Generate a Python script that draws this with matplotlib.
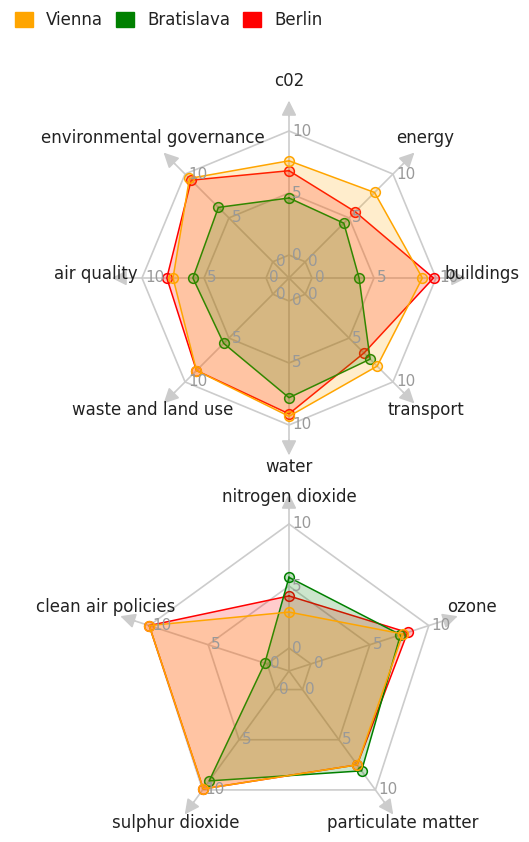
import matplotlib
matplotlib.use('Agg')
import matplotlib.pyplot as plt
import numpy as np
from matplotlib.patches import Patch
from matplotlib import transforms

# ---------------- data ----------------
series_names = ['Vienna', 'Bratislava', 'Berlin']
series_colors = ['#FFA500', '#008000', '#FF0000']

top_categories = ['c02', 'energy', 'buildings', 'transport', 'water',
                  'waste and land use', 'air quality', 'environmental governance']
vienna_top = [7.6, 7.9, 8.9, 8.2, 9.3, 8.7, 7.5, 9.5]
bratislava_top = [4.6, 4.4, 3.8, 7.4, 7.8, 5.6, 5.9, 6.2]
berlin_top = [6.8, 5.7, 9.8, 6.7, 9.1, 8.7, 8.0, 9.3]

bottom_categories = ['nitrogen dioxide', 'ozone', 'particulate matter',
                     'sulphur dioxide', 'clean air policies']
vienna_bottom = [2.9, 7.8, 7.5, 9.9, 10.0]
bratislava_bottom = [5.7, 7.6, 8.1, 9.1, 0.2]
berlin_bottom = [4.2, 8.2, 7.5, 9.9, 10.0]

tick_levels = [0, 5, 10]

# ---------------- layout ----------------
W, H, DPI = 529, 842, 100
fig = plt.figure(figsize=(W / DPI, H / DPI), dpi=DPI)
fig.patch.set_facecolor('white')

RMIN, RMAX = -1.85, 13.0
PX_PER_UNIT = 147 / 11.85
GRID = '#cccccc'
TEXT = '#222222'
TICK = '#999999'


def add_radar(cx, cy, cats, data, label_r):
    rad = (RMAX - RMIN) * PX_PER_UNIT
    ax = fig.add_axes([(cx - rad) / W, (H - cy - rad) / H, 2 * rad / W, 2 * rad / H],
                      projection='polar')
    ax.set_theta_zero_location('N')
    ax.set_theta_direction(-1)
    ax.set_ylim(RMIN, RMAX)
    ax.axis('off')
    n = len(cats)
    th = np.arange(n) * 2 * np.pi / n
    thc = np.append(th, th[0])

    # grid polygons
    for lvl in tick_levels:
        ax.plot(thc, [lvl] * (n + 1), color=GRID, lw=1.2, zorder=1)
    # spokes + arrows
    for t in th:
        ax.plot([t, t], [RMIN, 11.5], color=GRID, lw=1.2, zorder=1)
        ax.annotate('', xy=(t, 12.45), xytext=(t, 11.2),
                    arrowprops=dict(arrowstyle='-|>,head_length=0.9,head_width=0.45',
                                    color=GRID, lw=1.2, shrinkA=0, shrinkB=0),
                    zorder=1)

    # series: drawn in reverse order so that Vienna ends on top
    z = 2
    for name, vals, col in reversed(list(zip(series_names, data, series_colors))):
        vc = np.append(vals, vals[0])
        ax.fill(thc, vc, color=col, alpha=0.2, lw=0, zorder=z)
        ax.plot(thc, vc, color=col, lw=1.1, zorder=z + 0.1)
        ax.plot(th, vals, ls='none', marker='o', ms=7, mfc=(col, 0.25),
                mec=col, mew=1.1, zorder=z + 0.2)
        z += 1

    # tick labels
    toff = transforms.offset_copy(ax.transData, fig=fig, x=3, y=0, units='dots')
    for t in th:
        for lvl in tick_levels:
            ax.text(t, lvl, str(lvl), transform=toff, ha='left', va='center',
                    color=TICK, fontsize=11, zorder=10)

    # category labels
    loff = transforms.offset_copy(ax.transData, fig=fig, x=0, y=4, units='dots')
    for t, c, r in zip(th, cats, label_r):
        ax.text(t, r, c, transform=loff, ha='center', va='center',
                color=TEXT, fontsize=12, zorder=11)
    return ax


add_radar(289, 278, top_categories, [vienna_top, bratislava_top, berlin_top],
          [13.7] * len(top_categories))
add_radar(289, 671, bottom_categories,
          [vienna_bottom, bratislava_bottom, berlin_bottom],
          [11.85, 13.7, 13.7, 13.7, 13.7])

handles = [Patch(facecolor=c, edgecolor=c) for c in series_colors]
fig.legend(handles, series_names, loc='upper left', bbox_to_anchor=(15 / W, 1 - 11 / H),
           ncol=3, frameon=False, fontsize=12, handlelength=1.05, handleheight=1.05,
           handletextpad=0.8, columnspacing=0.8, labelcolor=TEXT,
           borderaxespad=0, borderpad=0)

fig.savefig('out.png', dpi=DPI)
